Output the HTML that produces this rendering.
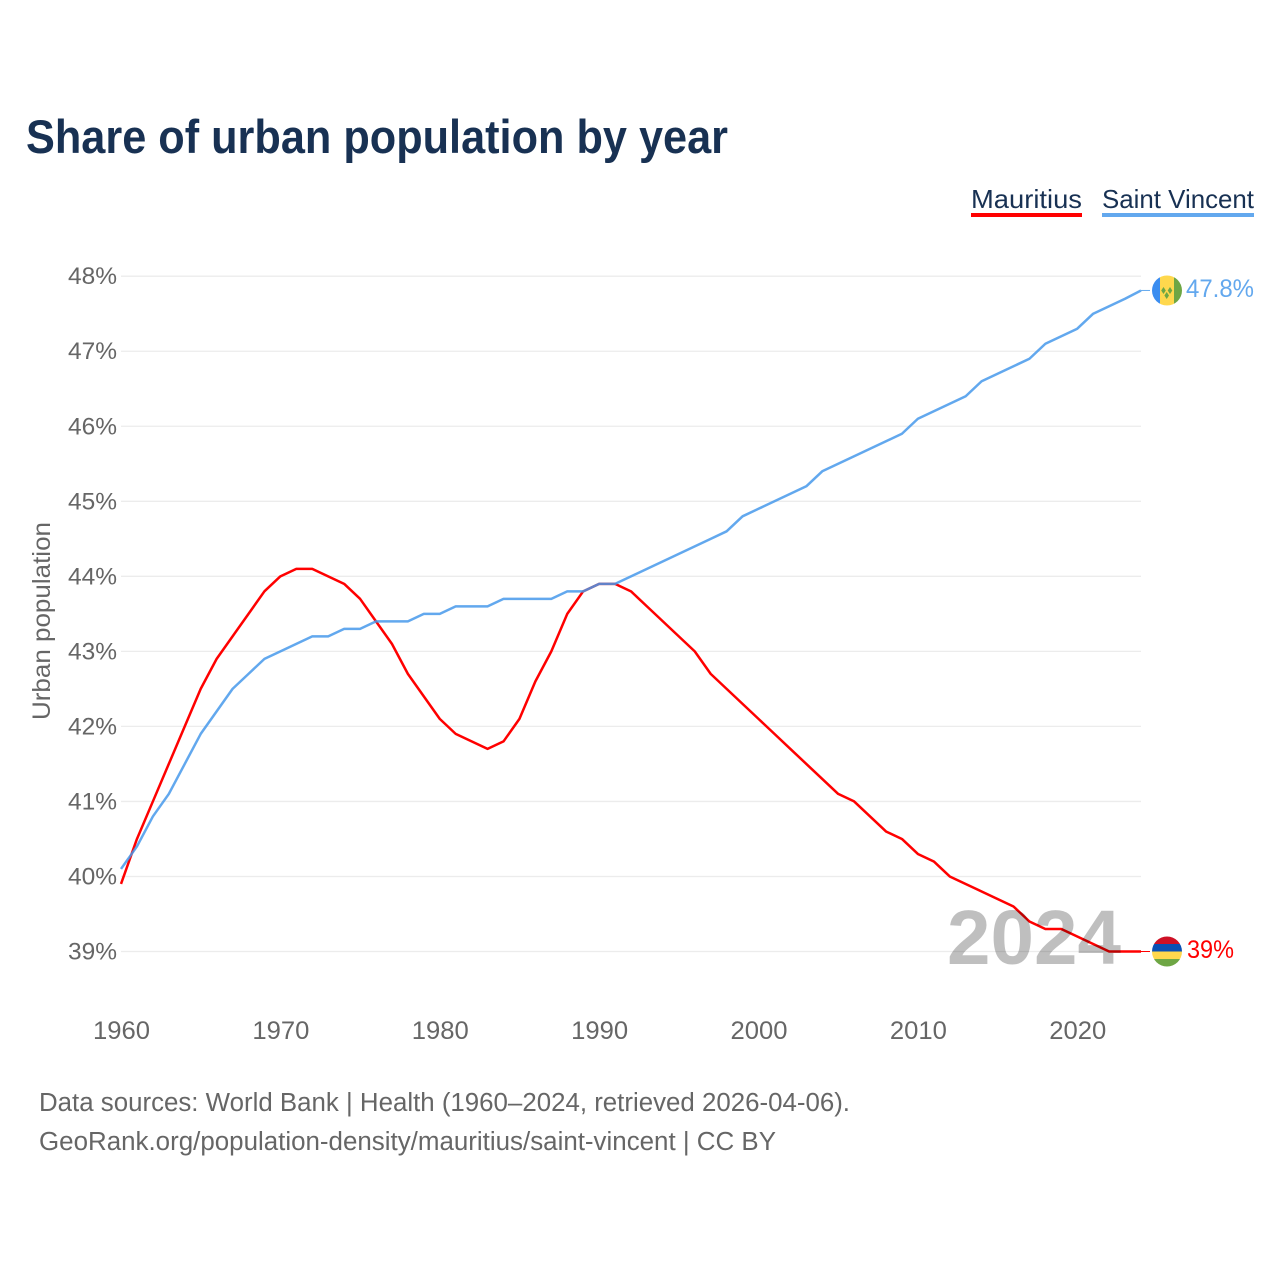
<!DOCTYPE html>
<html lang="en">
<head>
<meta charset="utf-8">
<title>Share of urban population by year</title>
<style>
html,body{margin:0;padding:0;background:#fff}
svg{display:block}
text{font-family:"Liberation Sans",sans-serif}
</style>
</head>
<body>
<svg id="chart" xmlns="http://www.w3.org/2000/svg" width="1280" height="1280" viewBox="0 0 1280 1280">
  <rect width="1280" height="1280" fill="#fff"/>
  <text x="26" y="153" font-size="47" font-weight="700" fill="#183153" textLength="702" lengthAdjust="spacingAndGlyphs">Share of urban population by year</text>

  <g style="cursor:pointer">
    <text x="971" y="208" font-size="26" fill="#183153" textLength="111" lengthAdjust="spacingAndGlyphs">Mauritius</text>
    <rect x="971" y="213" width="111" height="4" fill="#ff0000"/>
  </g>
  <g style="cursor:pointer">
    <text x="1102" y="208" font-size="26" fill="#183153" textLength="152" lengthAdjust="spacingAndGlyphs">Saint Vincent</text>
    <rect x="1102" y="213" width="152" height="4" fill="#63a8ee"/>
  </g>

  <g id="grid"></g>
  <g id="yticks"></g>
  <g id="xticks"></g>
  <text transform="translate(50,621) rotate(-90)" text-anchor="middle" font-size="25" fill="#666" textLength="198" lengthAdjust="spacingAndGlyphs">Urban population</text>

  <g id="series"></g>

  <text x="947" y="964" font-size="77" font-weight="700" fill="#000" fill-opacity="0.25" textLength="174" lengthAdjust="spacingAndGlyphs">2024</text>

  <defs>
    <clipPath id="flag-clip"><circle cx="0" cy="0" r="15"/></clipPath>
  </defs>

  <g id="flag-mauritius">
    <g clip-path="url(#flag-clip)">
      <rect x="-15" y="-15" width="30" height="7.5" fill="#ce1126"/>
      <rect x="-15" y="-7.5" width="30" height="7.5" fill="#0a50b4"/>
      <rect x="-15" y="0" width="30" height="7.5" fill="#ffd84d"/>
      <rect x="-15" y="7.5" width="30" height="7.5" fill="#6ea644"/>
    </g>
  </g>
  <g id="flag-saint-vincent">
    <g clip-path="url(#flag-clip)">
      <rect x="-15" y="-15" width="8" height="30" fill="#3b8df0"/>
      <rect x="-7" y="-15" width="14.5" height="30" fill="#ffd84d"/>
      <rect x="7" y="-15" width="8" height="30" fill="#6ea644"/>
      <polygon points="-3.5,-3.5 -1.2,0 -3.5,3.5 -5.8,0" fill="#6ea644"/>
      <polygon points="3,-3.5 5.3,0 3,3.5 0.7,0" fill="#6ea644"/>
      <polygon points="-0.3,1.5 2,5 -0.3,8.5 -2.6,5" fill="#6ea644"/>
    </g>
  </g>

  <text x="39" y="1111" font-size="25.5" fill="#666" textLength="811" lengthAdjust="spacingAndGlyphs">Data sources: World Bank | Health (1960–2024, retrieved 2026-04-06).</text>
  <text x="39" y="1150" font-size="25.5" fill="#666" textLength="737" lengthAdjust="spacingAndGlyphs">GeoRank.org/population-density/mauritius/saint-vincent | CC BY</text>
</svg>

<script>
const years = [1960,1961,1962,1963,1964,1965,1966,1967,1968,1969,1970,1971,1972,1973,1974,1975,1976,1977,1978,1979,1980,1981,1982,1983,1984,1985,1986,1987,1988,1989,1990,1991,1992,1993,1994,1995,1996,1997,1998,1999,2000,2001,2002,2003,2004,2005,2006,2007,2008,2009,2010,2011,2012,2013,2014,2015,2016,2017,2018,2019,2020,2021,2022,2023,2024];
const mauritiusValues = [39.9,40.5,41.0,41.5,42.0,42.5,42.9,43.2,43.5,43.8,44.0,44.1,44.1,44.0,43.9,43.7,43.4,43.1,42.7,42.4,42.1,41.9,41.8,41.7,41.8,42.1,42.6,43.0,43.5,43.8,43.9,43.9,43.8,43.6,43.4,43.2,43.0,42.7,42.5,42.3,42.1,41.9,41.7,41.5,41.3,41.1,41.0,40.8,40.6,40.5,40.3,40.2,40.0,39.9,39.8,39.7,39.6,39.4,39.3,39.3,39.2,39.1,39.0,39.0,39.0];
const saintVincentValues = [40.1,40.4,40.8,41.1,41.5,41.9,42.2,42.5,42.7,42.9,43.0,43.1,43.2,43.2,43.3,43.3,43.4,43.4,43.4,43.5,43.5,43.6,43.6,43.6,43.7,43.7,43.7,43.7,43.8,43.8,43.9,43.9,44.0,44.1,44.2,44.3,44.4,44.5,44.6,44.8,44.9,45.0,45.1,45.2,45.4,45.5,45.6,45.7,45.8,45.9,46.1,46.2,46.3,46.4,46.6,46.7,46.8,46.9,47.1,47.2,47.3,47.5,47.6,47.7,47.81];
const yTickValues = [39,40,41,42,43,44,45,46,47,48];
const xTickValues = [1960,1970,1980,1990,2000,2010,2020];

const NS = 'http://www.w3.org/2000/svg';
function xScale(year){ return 121 + (year - 1960) * (1141 - 121) / 64; }
function yScale(v){ return 951.5 - (v - 39) * (951.5 - 276.2) / 9; }
function svgEl(tag, parent){
  const el = document.createElementNS(NS, tag);
  parent.appendChild(el);
  return el;
}

const grid = document.getElementById('grid');
const yticks = document.getElementById('yticks');
yTickValues.forEach(function(v){
  const line = svgEl('line', grid);
  
  
  line.setAttribute('x1', 121);
  line.setAttribute('x2', 1141);
  line.setAttribute('y1', yScale(v));
  line.setAttribute('y2', yScale(v));
  line.setAttribute('stroke', '#ececec');
  line.setAttribute('stroke-width', '1.3');
  const t = svgEl('text', yticks);
  
  
  t.setAttribute('x', 117);
  t.setAttribute('y', yScale(v) + 8);
  t.setAttribute('text-anchor', 'end');
  t.setAttribute('font-size', '24.5');
  t.setAttribute('fill', '#666');
  t.textContent = v + '%';
});

const xticks = document.getElementById('xticks');
xTickValues.forEach(function(yr){
  const t = svgEl('text', xticks);
  
  
  t.setAttribute('x', xScale(yr) + 0.5);
  t.setAttribute('y', 1039);
  t.setAttribute('text-anchor', 'middle');
  t.setAttribute('font-size', '25');
  t.setAttribute('fill', '#666');
  t.setAttribute('textLength', '57');
  t.setAttribute('lengthAdjust', 'spacingAndGlyphs');
  t.textContent = yr;
});

function linePoints(values){
  return values.map(function(v, i){
    return xScale(years[i]).toFixed(2) + ',' + yScale(v).toFixed(2);
  }).join(' ');
}

const seriesGroup = document.getElementById('series');

const mauritiusLine = svgEl('polyline', seriesGroup);


mauritiusLine.setAttribute('points', linePoints(mauritiusValues));
mauritiusLine.setAttribute('fill', 'none');
mauritiusLine.setAttribute('stroke', '#ff0000');
mauritiusLine.setAttribute('stroke-width', '2.5');
mauritiusLine.setAttribute('stroke-linejoin', 'round');

const saintVincentLine = svgEl('polyline', seriesGroup);


saintVincentLine.setAttribute('points', linePoints(saintVincentValues));
saintVincentLine.setAttribute('fill', 'none');
saintVincentLine.setAttribute('stroke', '#4799eb');
saintVincentLine.setAttribute('stroke-opacity', '0.85');
saintVincentLine.setAttribute('stroke-width', '2.5');
saintVincentLine.setAttribute('stroke-linejoin', 'round');

function lastOf(arr){ return arr[arr.length - 1]; }
function formatPercent(v){ return (Math.round(v * 10) / 10) + '%'; }

const mauritiusEndY = yScale(lastOf(mauritiusValues));
const saintVincentEndY = yScale(lastOf(saintVincentValues));

const mauritiusLeader = svgEl('line', seriesGroup);


mauritiusLeader.setAttribute('x1', 1141);
mauritiusLeader.setAttribute('x2', 1150);
mauritiusLeader.setAttribute('y1', mauritiusEndY);
mauritiusLeader.setAttribute('y2', mauritiusEndY);
mauritiusLeader.setAttribute('stroke', '#ff0000');
mauritiusLeader.setAttribute('stroke-width', '1');

const saintVincentLeader = svgEl('line', seriesGroup);


saintVincentLeader.setAttribute('x1', 1141);
saintVincentLeader.setAttribute('x2', 1150);
saintVincentLeader.setAttribute('y1', saintVincentEndY);
saintVincentLeader.setAttribute('y2', saintVincentEndY);
saintVincentLeader.setAttribute('stroke', '#63a8ee');
saintVincentLeader.setAttribute('stroke-width', '1');

document.getElementById('flag-mauritius').setAttribute('transform', 'translate(1167,' + mauritiusEndY + ')');
document.getElementById('flag-saint-vincent').setAttribute('transform', 'translate(1167,' + saintVincentEndY + ')');

const svgRoot = document.getElementById('chart');

const mauritiusLabel = svgEl('text', svgRoot);


mauritiusLabel.setAttribute('x', 1187);
mauritiusLabel.setAttribute('y', mauritiusEndY + 6.5);
mauritiusLabel.setAttribute('font-size', '25');
mauritiusLabel.setAttribute('fill', '#ff0000');
mauritiusLabel.setAttribute('textLength', '47');
mauritiusLabel.setAttribute('lengthAdjust', 'spacingAndGlyphs');
mauritiusLabel.textContent = formatPercent(lastOf(mauritiusValues));

const saintVincentLabel = svgEl('text', svgRoot);


saintVincentLabel.setAttribute('x', 1186);
saintVincentLabel.setAttribute('y', saintVincentEndY + 6.5);
saintVincentLabel.setAttribute('font-size', '25');
saintVincentLabel.setAttribute('fill', '#63a8ee');
saintVincentLabel.setAttribute('textLength', '68');
saintVincentLabel.setAttribute('lengthAdjust', 'spacingAndGlyphs');
saintVincentLabel.textContent = formatPercent(lastOf(saintVincentValues));
</script>
</body>
</html>
